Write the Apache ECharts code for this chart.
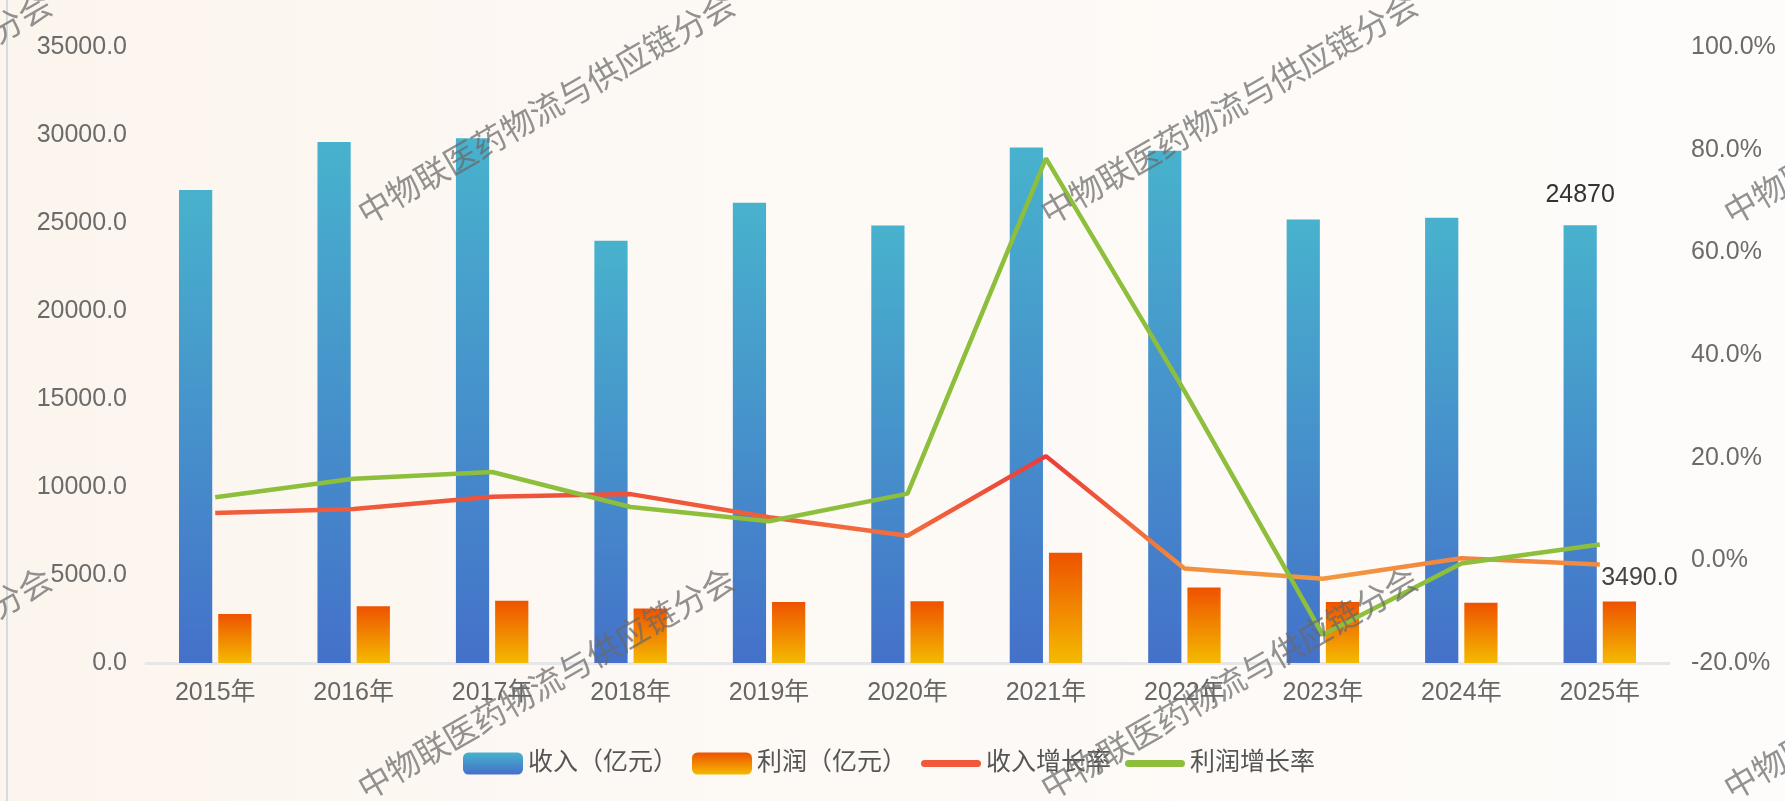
<!DOCTYPE html>
<html>
<head>
<meta charset="utf-8">
<script src="https://cdn.jsdelivr.net/npm/echarts@6/dist/echarts.min.js"></script>
<style>
html,body{margin:0;padding:0;width:1785px;height:801px;overflow:hidden;}
body{background:linear-gradient(to right,#fcf5ee 0%,#fdf9f5 45%,#fdfcfa 100%);}
#edge{position:absolute;left:6px;top:0;width:2px;height:801px;background:#d4dadf;}
#chart{position:absolute;left:0;top:0;width:1785px;height:801px;}
</style>
</head>
<body>
<div id="edge"></div>
<div id="chart"></div>
<script>
// ---- data ----
const years = ['2015年','2016年','2017年','2018年','2019年','2020年','2021年','2022年','2023年','2024年','2025年'];
const revenue = [26880, 29600, 29820, 23990, 26150, 24860, 29290, 29110, 25200, 25300, 24870];
const profit = [2780, 3220, 3530, 3100, 3460, 3510, 6270, 4290, 3470, 3430, 3490];
const revenueGrowth = [9.2, 10.0, 12.4, 12.9, 8.4, 4.8, 20.3, -1.6, -3.6, 0.4, -0.8];
const profitGrowth = [12.3, 15.9, 17.2, 10.4, 7.6, 13.0, 78.3, 33.0, -14.5, -0.6, 3.1];
const leftTicks = {min: 0, max: 35000, interval: 5000};
const rightTicks = {min: -20, max: 100, interval: 20};
const seriesNames = ['收入（亿元）', '利润（亿元）', '收入增长率', '利润增长率'];
const watermarkText = '中物联医药物流与供应链分会';

const FONT = '"Liberation Sans", Arial, "Noto Sans CJK SC", sans-serif';
const last = years.length - 1;
const G = echarts.graphic.LinearGradient;
const LINE_ICON = 'path://M3.5,0 H56.5 A3.5,3.5 0 0 1 56.5,7 H3.5 A3.5,3.5 0 0 1 3.5,0 Z';

const chart = echarts.init(document.getElementById('chart'), null, {renderer: 'canvas'});

const wmCenters = [[-137,108],[546,108],[1229,108],[1912,108],[-137,683],[546,683],[1229,683],[1912,683]];
const watermarks = wmCenters.map(c => ({
  type: 'text', x: c[0], y: c[1], rotation: Math.PI / 6, z: 100, silent: true,
  style: {
    text: watermarkText, fill: 'rgba(105,105,105,0.72)',
    font: '33px "Noto Sans CJK SC", sans-serif',
    align: 'center', verticalAlign: 'middle'
  }
}));

const option = {
  backgroundColor: 'transparent',
  animation: false,
  textStyle: {fontFamily: FONT},
  grid: {left: 146, right: 116, top: 47, bottom: 138, containLabel: false},
  legend: {
    data: [
      {name: seriesNames[0]},
      {name: seriesNames[1]},
      {name: seriesNames[2], icon: LINE_ICON, itemStyle: {color: '#f05a3a'}},
      {name: seriesNames[3], icon: LINE_ICON, itemStyle: {color: '#8dbf3c'}}
    ],
    left: 458, top: 746,
    itemWidth: 60, itemHeight: 22, itemGap: 14,
    textStyle: {fontSize: 25, color: '#555', fontFamily: FONT}
  },
  xAxis: {
    type: 'category', data: years,
    axisLine: {lineStyle: {color: '#e6e6e6', width: 3}},
    axisTick: {show: false},
    axisLabel: {fontSize: 25, color: '#666', margin: 18, fontFamily: FONT},
    splitLine: {show: false}
  },
  yAxis: [
    {
      type: 'value', min: leftTicks.min, max: leftTicks.max, interval: leftTicks.interval,
      axisLine: {show: false}, axisTick: {show: false}, splitLine: {show: false},
      axisLabel: {fontSize: 25, color: '#6b6b6b', margin: 19, fontFamily: FONT,
        formatter: v => v.toFixed(1)}
    },
    {
      type: 'value', min: rightTicks.min, max: rightTicks.max, interval: rightTicks.interval,
      axisLine: {show: false}, axisTick: {show: false}, splitLine: {show: false},
      axisLabel: {fontSize: 25, color: '#6b6b6b', margin: 22, fontFamily: FONT,
        formatter: v => v.toFixed(1) + '%'}
    }
  ],
  series: [
    {
      name: seriesNames[0], type: 'bar', data: revenue,
      barWidth: '24%', barGap: '18%',
      itemStyle: {color: new G(0, 0, 0, 1, [{offset: 0, color: '#48b2cd'}, {offset: 1, color: '#4471c9'}])},
      label: {show: true, position: 'top', distance: 18, fontSize: 25, color: '#333', fontFamily: FONT,
        formatter: p => p.dataIndex === last ? String(p.value) : ''}
    },
    {
      name: seriesNames[1], type: 'bar', data: profit,
      barWidth: '24%', barGap: '18%',
      itemStyle: {color: new G(0, 0, 0, 1, [{offset: 0, color: '#ee5200'}, {offset: 1, color: '#f4ba00'}])},
      label: {show: true, position: 'top', offset: [20, -6], fontSize: 25, color: '#444', fontFamily: FONT,
        formatter: p => p.dataIndex === last ? p.value.toFixed(1) : ''}
    },
    {
      name: seriesNames[2], type: 'line', yAxisIndex: 1, data: revenueGrowth,
      symbol: 'none', z: 5,
      itemStyle: {color: '#f05a3a'},
      lineStyle: {width: 4.5, color: new G(0, 0, 0, 1, [{offset: 0, color: '#ea3a3a'}, {offset: 0.5, color: '#f0603c'}, {offset: 1, color: '#f39a40'}])}
    },
    {
      name: seriesNames[3], type: 'line', yAxisIndex: 1, data: profitGrowth,
      symbol: 'none', z: 6,
      itemStyle: {color: '#8dbf3c'},
      lineStyle: {width: 4.5, color: '#8dbf3c'}
    }
  ],
  graphic: watermarks
};
chart.setOption(option);
</script>
</body>
</html>
